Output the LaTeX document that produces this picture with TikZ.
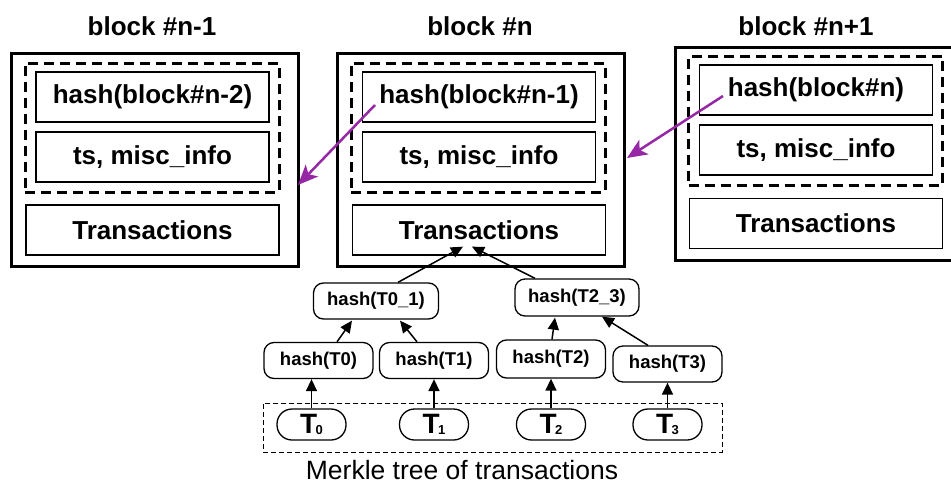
\documentclass[tikz,border=0pt]{standalone}
\usepackage{fontspec}
\setmainfont{Liberation Sans}
\usetikzlibrary{arrows.meta,calc}
\definecolor{linkpurple}{RGB}{150,40,165}

\begin{document}
\begin{tikzpicture}[x=1pt,y=-1pt,
  blockbox/.style={draw,line width=3pt,minimum width=287pt,minimum height=213pt,inner sep=0pt},
  headerbox/.style={draw,line width=3pt,dash pattern=on 10pt off 6pt,minimum width=254pt,minimum height=129pt,inner sep=0pt},
  fieldbox/.style={draw,line width=1.3pt,minimum width=233pt,minimum height=50pt,inner sep=0pt,font=\fontsize{26}{30}\selectfont\bfseries},
  txbox/.style={fieldbox,minimum width=253pt},
  blocktitle/.style={font=\fontsize{26}{30}\selectfont\bfseries},
  hashnode/.style={draw,line width=1.3pt,rounded corners=10pt,minimum width=109pt,minimum height=36pt,inner sep=0pt,font=\fontsize{18.5}{22}\selectfont\bfseries},
  leaf/.style={draw,line width=1.3pt,rounded corners=15pt,minimum width=69pt,minimum height=31pt,inner sep=0pt,font=\bfseries},
  arr/.style={line width=1.5pt,-{Triangle[length=12pt,width=11pt]}},
  link/.style={linkpurple,line width=2.5pt,-{Stealth[length=20pt,width=17pt,inset=5pt]}}
]
\clip (0,0) rectangle (951,485);
\fill[white] (0,0) rectangle (951,485);

% block #n-1
\node[blocktitle] (tA) at (152,26) {block \#n-1};
\node[blockbox] (oA) at (154.5,159.5) {};
\node[headerbox] (dA) at (152,127.5) {};
\node[fieldbox] (hA) at (152.5,97) {hash(block\#n-2)};
\node[fieldbox] (sA) at (152.5,157) {ts, misc\_info};
\node[txbox] (xA) at (152.5,230) {Transactions};

% block #n
\node[blocktitle] (tB) at (480,26) {block \#n};
\node[blockbox] (oB) at (480.5,160) {};
\node[headerbox] (dB) at (478,127.5) {};
\node[fieldbox] (hB) at (479,97) {hash(block\#n-1)};
\node[fieldbox] (sB) at (479,157) {ts, misc\_info};
\node[txbox] (xB) at (479,230) {Transactions};

% block #n+1
\node[blocktitle] (tC) at (806,26) {block \#n+1};
\node[blockbox] (oC) at (818.5,153.5) {};
\node[headerbox] (dC) at (815.5,120.5) {};
\node[fieldbox] (hC) at (816,90) {hash(block\#n)};
\node[fieldbox] (sC) at (816,150) {ts, misc\_info};
\node[txbox] (xC) at (816,223.5) {Transactions};

% links to the previous block
\coordinate (pB) at (375,105);
\coordinate (pC) at (723,96);
\coordinate (eA) at (298,185);
\coordinate (eB) at (627,158);
\draw[link] (pB) -- (eA);
\draw[link] (pC) -- (eB);

% Merkle tree
\node[hashnode,minimum width=125pt] (h01) at (376,301) {hash(T0\_1)};
\node[hashnode,minimum width=124pt,minimum height=37pt] (h23) at (577,297.5) {hash(T2\_3)};
\node[hashnode] (hT0) at (318.5,360.5) {hash(T0)};
\node[hashnode] (hT1) at (434,360.5) {hash(T1)};
\node[hashnode,minimum height=38pt] (hT2) at (551,359) {hash(T2)};
\node[hashnode] (hT3) at (667.5,364) {hash(T3)};

\newcommand{\leaftext}[1]{{\fontsize{28}{30}\selectfont T}\kern-1.5pt\raisebox{-1pt}{\fontsize{13}{14}\selectfont #1}}
\node[leaf] (T0) at (311.5,424.5) {\leaftext{0}};
\node[leaf] (T1) at (434,424.5) {\leaftext{1}};
\node[leaf] (T2) at (551,424.5) {\leaftext{2}};
\node[leaf] (T3) at (667.5,424.5) {\leaftext{3}};

\node[draw,line width=1pt,dash pattern=on 5pt off 3pt,minimum width=459pt,minimum height=49pt,inner sep=0pt] (mk) at (492.5,427.5) {};
\node[font=\fontsize{26.5}{30}\selectfont] (cap) at (462,470) {Merkle tree of transactions};

\draw[arr] (T0.north) -- (T0.north |- hT0.south);
\draw[arr] (T1.north) -- (T1.north |- hT1.south);
\draw[arr] (T2.north) -- (T2.north |- hT2.south);
\draw[arr] (T3.north) -- (T3.north |- hT3.south);
\draw[arr] ($(hT0.north)+(18.5,0)$) -- ($(h01.south)+(-24,1)$);
\draw[arr] ($(hT1.north)+(-17,0)$) -- ($(h01.south)+(24,1)$);
\draw[arr] ($(hT2.north)+(1,0)$) -- ($(h23.south)+(-22,1)$);
\draw[arr] ($(hT3.north)+(-19.5,0)$) -- ($(h23.south)+(25,0)$);
\draw[arr] ($(h01.north)+(22,0)$) -- ($(xB.south)+(-16,-9)$);
\draw[arr] ($(h23.north)+(-42,0)$) -- ($(xB.south)+(-7,-9)$);
\end{tikzpicture}
\end{document}
